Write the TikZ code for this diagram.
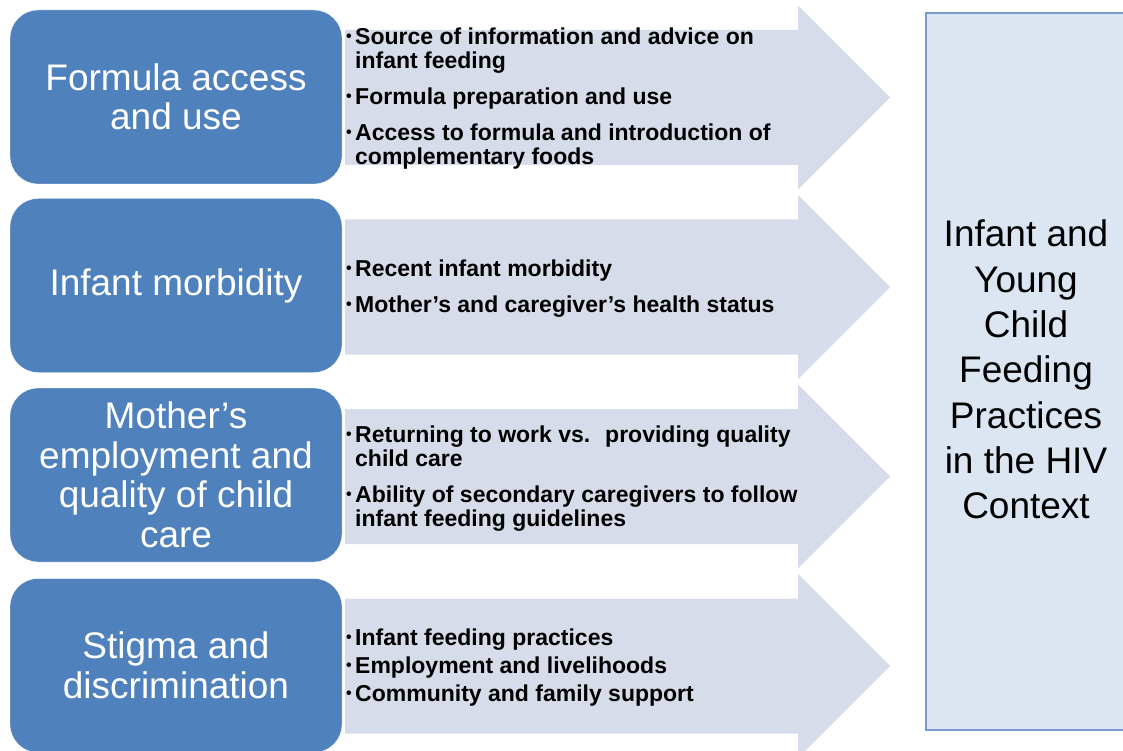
\documentclass[tikz,border=0pt]{standalone}
\usepackage{fontspec}
\setmainfont{Liberation Sans}
\usepackage{tikz}
\definecolor{boxblue}{RGB}{79,129,189}
\definecolor{arrowgray}{RGB}{214,220,233}
\definecolor{goalfill}{RGB}{220,230,242}
\definecolor{goalline}{RGB}{120,155,205}
\newcommand{\bul}{\makebox[9pt][l]{\raisebox{3pt}{\fontsize{16}{16}\selectfont\textbullet}}}
\newcommand{\cont}{\hspace*{9pt}}

\begin{document}
\begin{tikzpicture}[x=1pt, y=-1pt,
  factor/.style={fill=boxblue, draw=white, rounded corners=28pt, minimum width=332pt, minimum height=174pt, inner sep=0pt, text=white, align=center, font=\fontsize{37}{39.5}\selectfont},
  itemtxt/.style={anchor=west, inner sep=0pt, align=left, font=\fontsize{23}{24}\selectfont\bfseries},
  goal/.style={inner sep=0pt, align=center, font=\fontsize{37}{45.3}\selectfont}]
\useasboundingbox (0,0) rectangle (1123,751);

% Arrows
\foreach \c in {97.5,287,476.5,666}
  \fill[arrowgray] (345,\c-67.5) -- (798,\c-67.5) -- (798,\c-92) -- (890,\c) -- (798,\c+92) -- (798,\c+67.5) -- (345,\c+67.5) -- cycle;

% Factor boxes
\node[factor] (access) at (176,97) {Formula access\\and use};
\node[factor] (morbid) at (176,285.5) {Infant morbidity};
\node[factor] (employ) at (176,475) {Mother’s\\employment and\\quality of child\\care};
\node[factor] (stigma) at (176,665.5) {Stigma and\\discrimination};

% Items
\node[itemtxt] (accessitems) at (346,99) {\bul Source of information and advice on\\ \cont infant feeding\\[12pt] \bul Formula preparation and use\\[12pt] \bul Access to formula and introduction of\\ \cont complementary foods};
\node[itemtxt] (morbiditems) at (346,289) {\bul Recent infant morbidity\\[12pt] \bul Mother’s and caregiver’s health status};
\node[itemtxt] (employitems) at (346,479) {\bul Returning to work vs.~ providing quality\\ \cont child care\\[12pt] \bul Ability of secondary caregivers to follow\\ \cont infant feeding guidelines};
\node[itemtxt] (stigmaitems) at (346,668) {\bul Infant feeding practices\\[4pt] \bul Employment and livelihoods\\[4pt] \bul Community and family support};

% Outcome
\filldraw[fill=goalfill, draw=goalline, line width=1.5pt] (926,13) rectangle (1126,730);
\node[goal] (practice) at (1026,369.5) {Infant and\\Young\\Child\\Feeding\\Practices\\in the HIV\\Context};
\end{tikzpicture}
\end{document}
